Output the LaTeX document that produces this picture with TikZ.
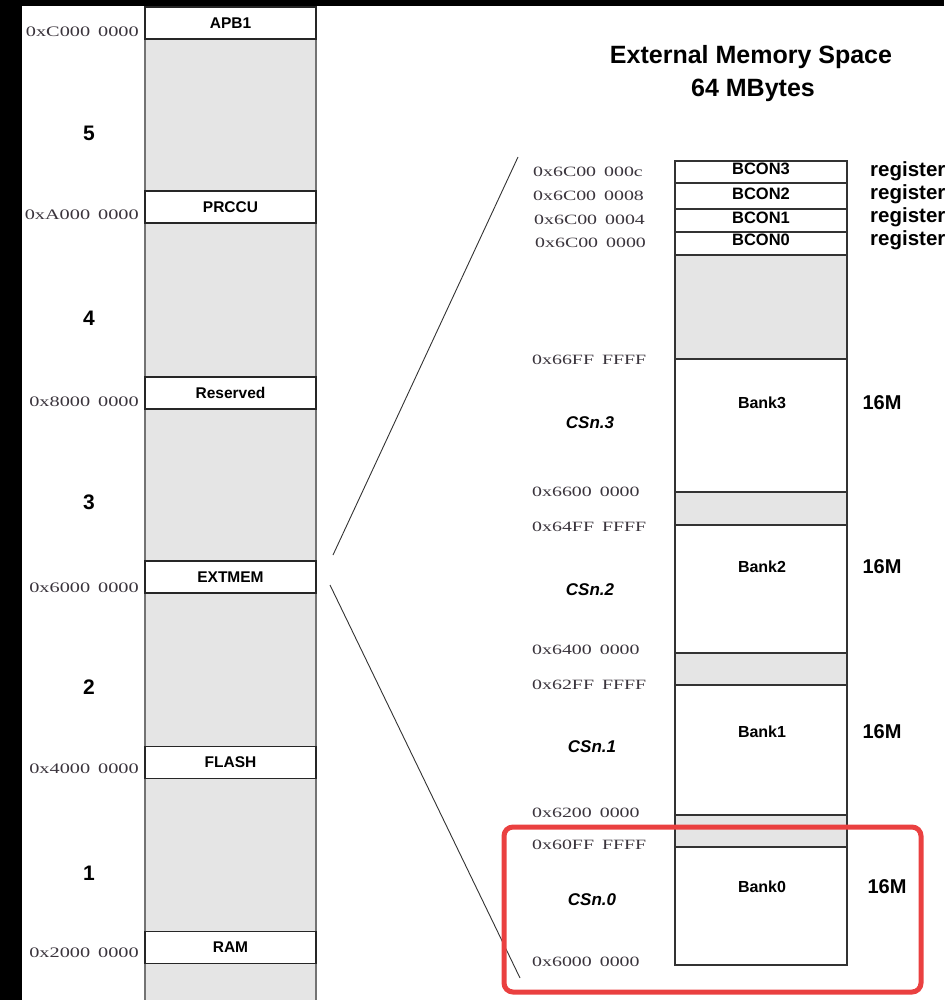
\documentclass[tikz,border=0pt]{standalone}
\usepackage{fontspec}
\setmainfont{Liberation Sans}
\newfontfamily\addrfont[FakeStretch=1.4]{Liberation Serif}
\definecolor{memgray}{RGB}{229,229,229}
\definecolor{hlred}{RGB}{234,64,64}
\definecolor{addrcol}{RGB}{58,52,60}
\begin{document}
\begin{tikzpicture}[x=1pt,y=-1pt,
  lbox/.style={draw=black!85, line width=1.3pt, fill=white, minimum width=171pt,
    minimum height=32pt, inner sep=0pt, font=\fontsize{15.5}{15.5}\selectfont\bfseries},
  rbox/.style={draw=black!80, line width=1.1pt, fill=white, minimum width=172pt, inner sep=0pt},
  bconlab/.style={inner sep=0pt, font=\fontsize{16.5}{16.5}\selectfont\bfseries},
  reglab/.style={anchor=west, inner sep=0pt, font=\fontsize{20.5}{20.5}\selectfont\bfseries},
  addrL/.style={anchor=east, inner sep=0pt, text=addrcol, font=\addrfont\fontsize{14.5}{14.5}\selectfont},
  addrR/.style={anchor=west, inner sep=0pt, text=addrcol, font=\addrfont\fontsize{14.2}{14.2}\selectfont},
  num/.style={inner sep=0pt, font=\fontsize{21}{21}\selectfont\bfseries},
  ttl/.style={inner sep=0pt, font=\fontsize{25}{25}\selectfont\bfseries},
  banklab/.style={inner sep=0pt, font=\fontsize{16}{16}\selectfont\bfseries},
  sizelab/.style={inner sep=0pt, font=\fontsize{20}{20}\selectfont\bfseries},
  cslab/.style={inner sep=0pt, font=\fontsize{17}{17}\selectfont\bfseries\itshape},
  zoomline/.style={draw=black!80, line width=0.9pt},
  colline/.style={draw=black!55, line width=2.2pt}
]
\useasboundingbox (0,0) rectangle (944,1000);
% screenshot frame
\fill[black] (0,0) rectangle (22,1000);
\fill[black] (0,0) rectangle (944,6);

% ---------- left memory map ----------
\fill[memgray] (145,6) rectangle (316,1000);
\draw[colline] (145,6) -- (145,1000);
\draw[colline] (316,6) -- (316,1000);

\node[lbox] (apb1)  at (230.5,23)    {APB1};
\node[lbox] (prccu) at (230.5,207)   {PRCCU};
\node[lbox] (resv)  at (230.5,393)   {Reserved};
\node[lbox] (ext)   at (230.5,577)   {EXTMEM};
\node[lbox] (flash) at (230.5,762.5) {FLASH};
\node[lbox] (ram)   at (230.5,947.5) {RAM};

\node[addrL] (aC) at (139,32)  {0xC000\hspace{8pt}0000};
\node[addrL] (aA) at (139,215) {0xA000\hspace{8pt}0000};
\node[addrL] (a8) at (139,402) {0x8000\hspace{8pt}0000};
\node[addrL] (a6) at (139,588) {0x6000\hspace{8pt}0000};
\node[addrL] (a4) at (139,769) {0x4000\hspace{8pt}0000};
\node[addrL] (a2) at (139,953) {0x2000\hspace{8pt}0000};

\node[num] (n5) at (89,133) {5};
\node[num] (n4) at (89,318) {4};
\node[num] (n3) at (89,502) {3};
\node[num] (n2) at (89,687) {2};
\node[num] (n1) at (89,873) {1};

% ---------- title ----------
\node[ttl] (t1) at (751,57) {External Memory Space};
\node[ttl] (t2) at (753,90) {64 MBytes};

% ---------- right memory map ----------
\fill[memgray] (675,255) rectangle (847,965);
\draw[draw=black!80, line width=1.1pt] (675,161) rectangle (847,965);

\node[rbox, minimum height=22pt] (bcon3) at (761,172)   {};
\node[rbox, minimum height=26pt] (bcon2) at (761,196)   {};
\node[rbox, minimum height=23pt] (bcon1) at (761,220.5) {};
\node[rbox, minimum height=23pt] (bcon0) at (761,243.5) {};
\node[bconlab] (lb3) at (761,169) {BCON3};
\node[bconlab] (lb2) at (761,194) {BCON2};
\node[bconlab] (lb1) at (761,218) {BCON1};
\node[bconlab] (lb0) at (761,240) {BCON0};

\node[rbox, minimum height=133pt] (bank3) at (761,425.5) {};
\node[rbox, minimum height=128pt] (bank2) at (761,589)   {};
\node[rbox, minimum height=130pt] (bank1) at (761,750)   {};
\node[rbox, minimum height=118pt] (bank0) at (761,906)   {};
\draw[draw=black!80, line width=1.1pt] (675,255) -- (847,255);

\node[banklab] (bl3) at (762,403) {Bank3};
\node[banklab] (bl2) at (762,567) {Bank2};
\node[banklab] (bl1) at (762,732) {Bank1};
\node[banklab] (bl0) at (762,887) {Bank0};

\node[sizelab] (s3) at (882,403) {16M};
\node[sizelab] (s2) at (882,567) {16M};
\node[sizelab] (s1) at (882,732) {16M};
\node[sizelab] (s0) at (887,887) {16M};

\node[cslab] (cs3) at (590,423) {CSn.3};
\node[cslab] (cs2) at (590,590) {CSn.2};
\node[cslab] (cs1) at (592,747) {CSn.1};
\node[cslab] (cs0) at (592,900) {CSn.0};

\node[reglab] (r3) at (870,171) {register};
\node[reglab] (r2) at (870,194) {register};
\node[reglab] (r1) at (870,217) {register};
\node[reglab] (r0) at (870,240) {register};

\node[addrR] (c3) at (533,172) {0x6C00\hspace{8pt}000c};
\node[addrR] (c2) at (533,196) {0x6C00\hspace{8pt}0008};
\node[addrR] (c1) at (534,220) {0x6C00\hspace{8pt}0004};
\node[addrR] (c0) at (535,243) {0x6C00\hspace{8pt}0000};

\node[addrR] (e66f) at (532,360) {0x66FF\hspace{8pt}FFFF};
\node[addrR] (e660) at (532,492) {0x6600\hspace{8pt}0000};
\node[addrR] (e64f) at (532,527) {0x64FF\hspace{8pt}FFFF};
\node[addrR] (e640) at (532,650) {0x6400\hspace{8pt}0000};
\node[addrR] (e62f) at (532,685) {0x62FF\hspace{8pt}FFFF};
\node[addrR] (e620) at (532,813) {0x6200\hspace{8pt}0000};
\node[addrR] (e60f) at (532,845) {0x60FF\hspace{8pt}FFFF};
\node[addrR] (e600) at (532,962) {0x6000\hspace{8pt}0000};

% ---------- zoom lines ----------
\coordinate (zA) at (333,555);
\coordinate (zB) at (518,157);
\coordinate (zC) at (330,585);
\coordinate (zD) at (520,978);
\draw[zoomline] (zA) -- (zB);
\draw[zoomline] (zC) -- (zD);

% ---------- highlight ----------
\node[draw=hlred, line width=5pt, rounded corners=9pt, minimum width=417pt,
  minimum height=165pt, inner sep=0pt] (hl) at (712.5,909.5) {};
\end{tikzpicture}
\end{document}
